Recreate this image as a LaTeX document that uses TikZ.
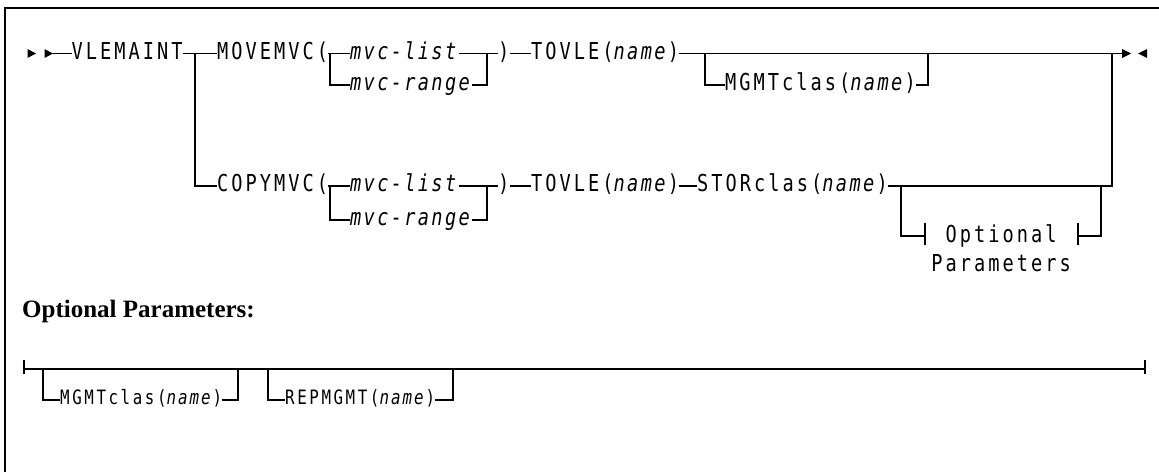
\documentclass[tikz,border=0pt]{standalone}
\usepackage{fontspec}
\setmainfont{Liberation Serif}
\newfontfamily\rrmono{DejaVu Sans Mono}[FakeStretch=0.8,LetterSpace=13,ItalicFont={DejaVu Sans Mono Oblique},ItalicFeatures={LetterSpace=10}]
\tikzset{
  kw/.style={inner sep=0pt, anchor=base west, font=\rrmono\fontsize{23.3}{26}\selectfont},
  ks/.style={inner sep=0pt, anchor=base west, font=\rrmono\fontsize{19.8}{23}\selectfont},
  kc/.style={inner sep=0pt, anchor=base, font=\rrmono\fontsize{23.3}{26}\selectfont},
  rr/.style={line width=1.6pt},
  frm/.style={line width=1.3pt},
}
\begin{document}
\begin{tikzpicture}[x=1pt,y=-1pt]
\useasboundingbox (0,0) rectangle (1159,472);
% frame
\draw[frm] (1159,8) -- (5,8) -- (5,472);
% rows
\coordinate (R1) at (0,53.5);
\coordinate (R1b) at (0,85);
\coordinate (R2) at (0,186);
\coordinate (R2b) at (0,220);
\coordinate (R3) at (0,369);
\coordinate (R3b) at (0,400);
% junctions
\coordinate (st1) at (53,53.5);
\coordinate (en1) at (1122,53.5);
\coordinate (j1) at (195,53.5);
\coordinate (ja) at (330,53.5);
\coordinate (jb) at (487,53.5);
\coordinate (jc) at (705,53.5);
\coordinate (jd) at (928,53.5);
\coordinate (je) at (1112,53.5);
\coordinate (ka) at (330,186);
\coordinate (kb) at (487,186);
\coordinate (kc) at (901,186);
\coordinate (kd) at (1101,186);
\coordinate (ob1) at (925,236);
\coordinate (ob2) at (1078,236);
\coordinate (sb) at (24,369);
\coordinate (eb) at (1145,369);
\coordinate (la) at (43,369);
\coordinate (lb) at (238,369);
\coordinate (lc) at (268,369);
\coordinate (ld) at (453,369);
% arrowheads
\fill (27.5,49) -- (36,53.5) -- (27.5,58) -- cycle;
\fill (44.5,49) -- (53,53.5) -- (44.5,58) -- cycle;
\fill (1122,49) -- (1131,53.5) -- (1122,58) -- cycle;
\fill (1147,49) -- (1138,53.5) -- (1147,58) -- cycle;
% row 1 nodes
\node[kw] (vle) at (71.5,59.2) {VLEMAINT};
\node[kw] (mv) at (217,59.2) {MOVEMVC(};
\node[kw] (ml1) at (350,59.2) {\textit{mvc-list}};
\node[kw] (mr1) at (350,90.7) {\textit{mvc-range}};
\node[kw] (cp1) at (498,59.2) {)};
\node[kw] (tv1) at (531,59.2) {TOVLE(\textit{name})};
\node[kw] (mg1) at (725,90.7) {MGMTclas(\textit{name})};
% row 2 nodes
\node[kw] (cv) at (217,191.7) {COPYMVC(};
\node[kw] (ml2) at (350,191.7) {\textit{mvc-list}};
\node[kw] (mr2) at (350,225.7) {\textit{mvc-range}};
\node[kw] (cp2) at (498,191.7) {)};
\node[kw] (tv2) at (531,191.7) {TOVLE(\textit{name})};
\node[kw] (st) at (697,191.7) {STORclas(\textit{name})};
\node[kc] (op1) at (1001,242) {Optional};
\node[kc] (op2) at (1001,271) {Parameters};
% heading
\node[inner sep=0pt, anchor=base west, font=\bfseries\fontsize{25}{29}\selectfont] (hd) at (22,317) {Optional Parameters:};
% bottom nodes
\node[ks] (mg3) at (60,404.5) {MGMTclas(\textit{name})};
\node[ks] (rp) at (285,404.5) {REPMGMT(\textit{name})};
% row 1 connectors
\draw[rr] (st1) -- (vle.west |- R1);
\draw[rr] (vle.east |- R1) -- (mv.west |- R1);
\draw[rr] (j1) |- (cv.west |- R2);
\draw[rr] (mv.east |- R1) -- (ml1.west |- R1);
\draw[rr] (ja) |- (mr1.west |- R1b);
\draw[rr] (ml1.east |- R1) -- (cp1.west |- R1);
\draw[rr] (mr1.east |- R1b) -| (jb);
\draw[rr] (cp1.east |- R1) -- (tv1.west |- R1);
\draw[rr] (tv1.east |- R1) -- (en1);
\draw[rr] (jc) |- (mg1.west |- R1b);
\draw[rr] (mg1.east |- R1b) -| (jd);
% row 2 connectors
\draw[rr] (cv.east |- R2) -- (ml2.west |- R2);
\draw[rr] (ka) |- (mr2.west |- R2b);
\draw[rr] (ml2.east |- R2) -- (cp2.west |- R2);
\draw[rr] (mr2.east |- R2b) -| (kb);
\draw[rr] (cp2.east |- R2) -- (tv2.west |- R2);
\draw[rr] (tv2.east |- R2) -- (st.west |- R2);
\draw[rr] (st.east |- R2) -| (je);
\draw[rr] (kc) |- (ob1);
\draw[rr] ([yshift=-9pt]ob1) -- ([yshift=13pt]ob1);
\draw[rr] ([yshift=-9pt]ob2) -- ([yshift=13pt]ob2);
\draw[rr] (ob2) -| (kd);
% bottom connectors
\draw[rr] (sb) -- (eb);
\draw[rr] ([yshift=-5pt]sb) -- ([yshift=9pt]sb);
\draw[rr] ([yshift=-5pt]eb) -- ([yshift=9pt]eb);
\draw[rr] (la) |- (mg3.west |- R3b);
\draw[rr] (mg3.east |- R3b) -| (lb);
\draw[rr] (lc) |- (rp.west |- R3b);
\draw[rr] (rp.east |- R3b) -| (ld);
\end{tikzpicture}
\end{document}
